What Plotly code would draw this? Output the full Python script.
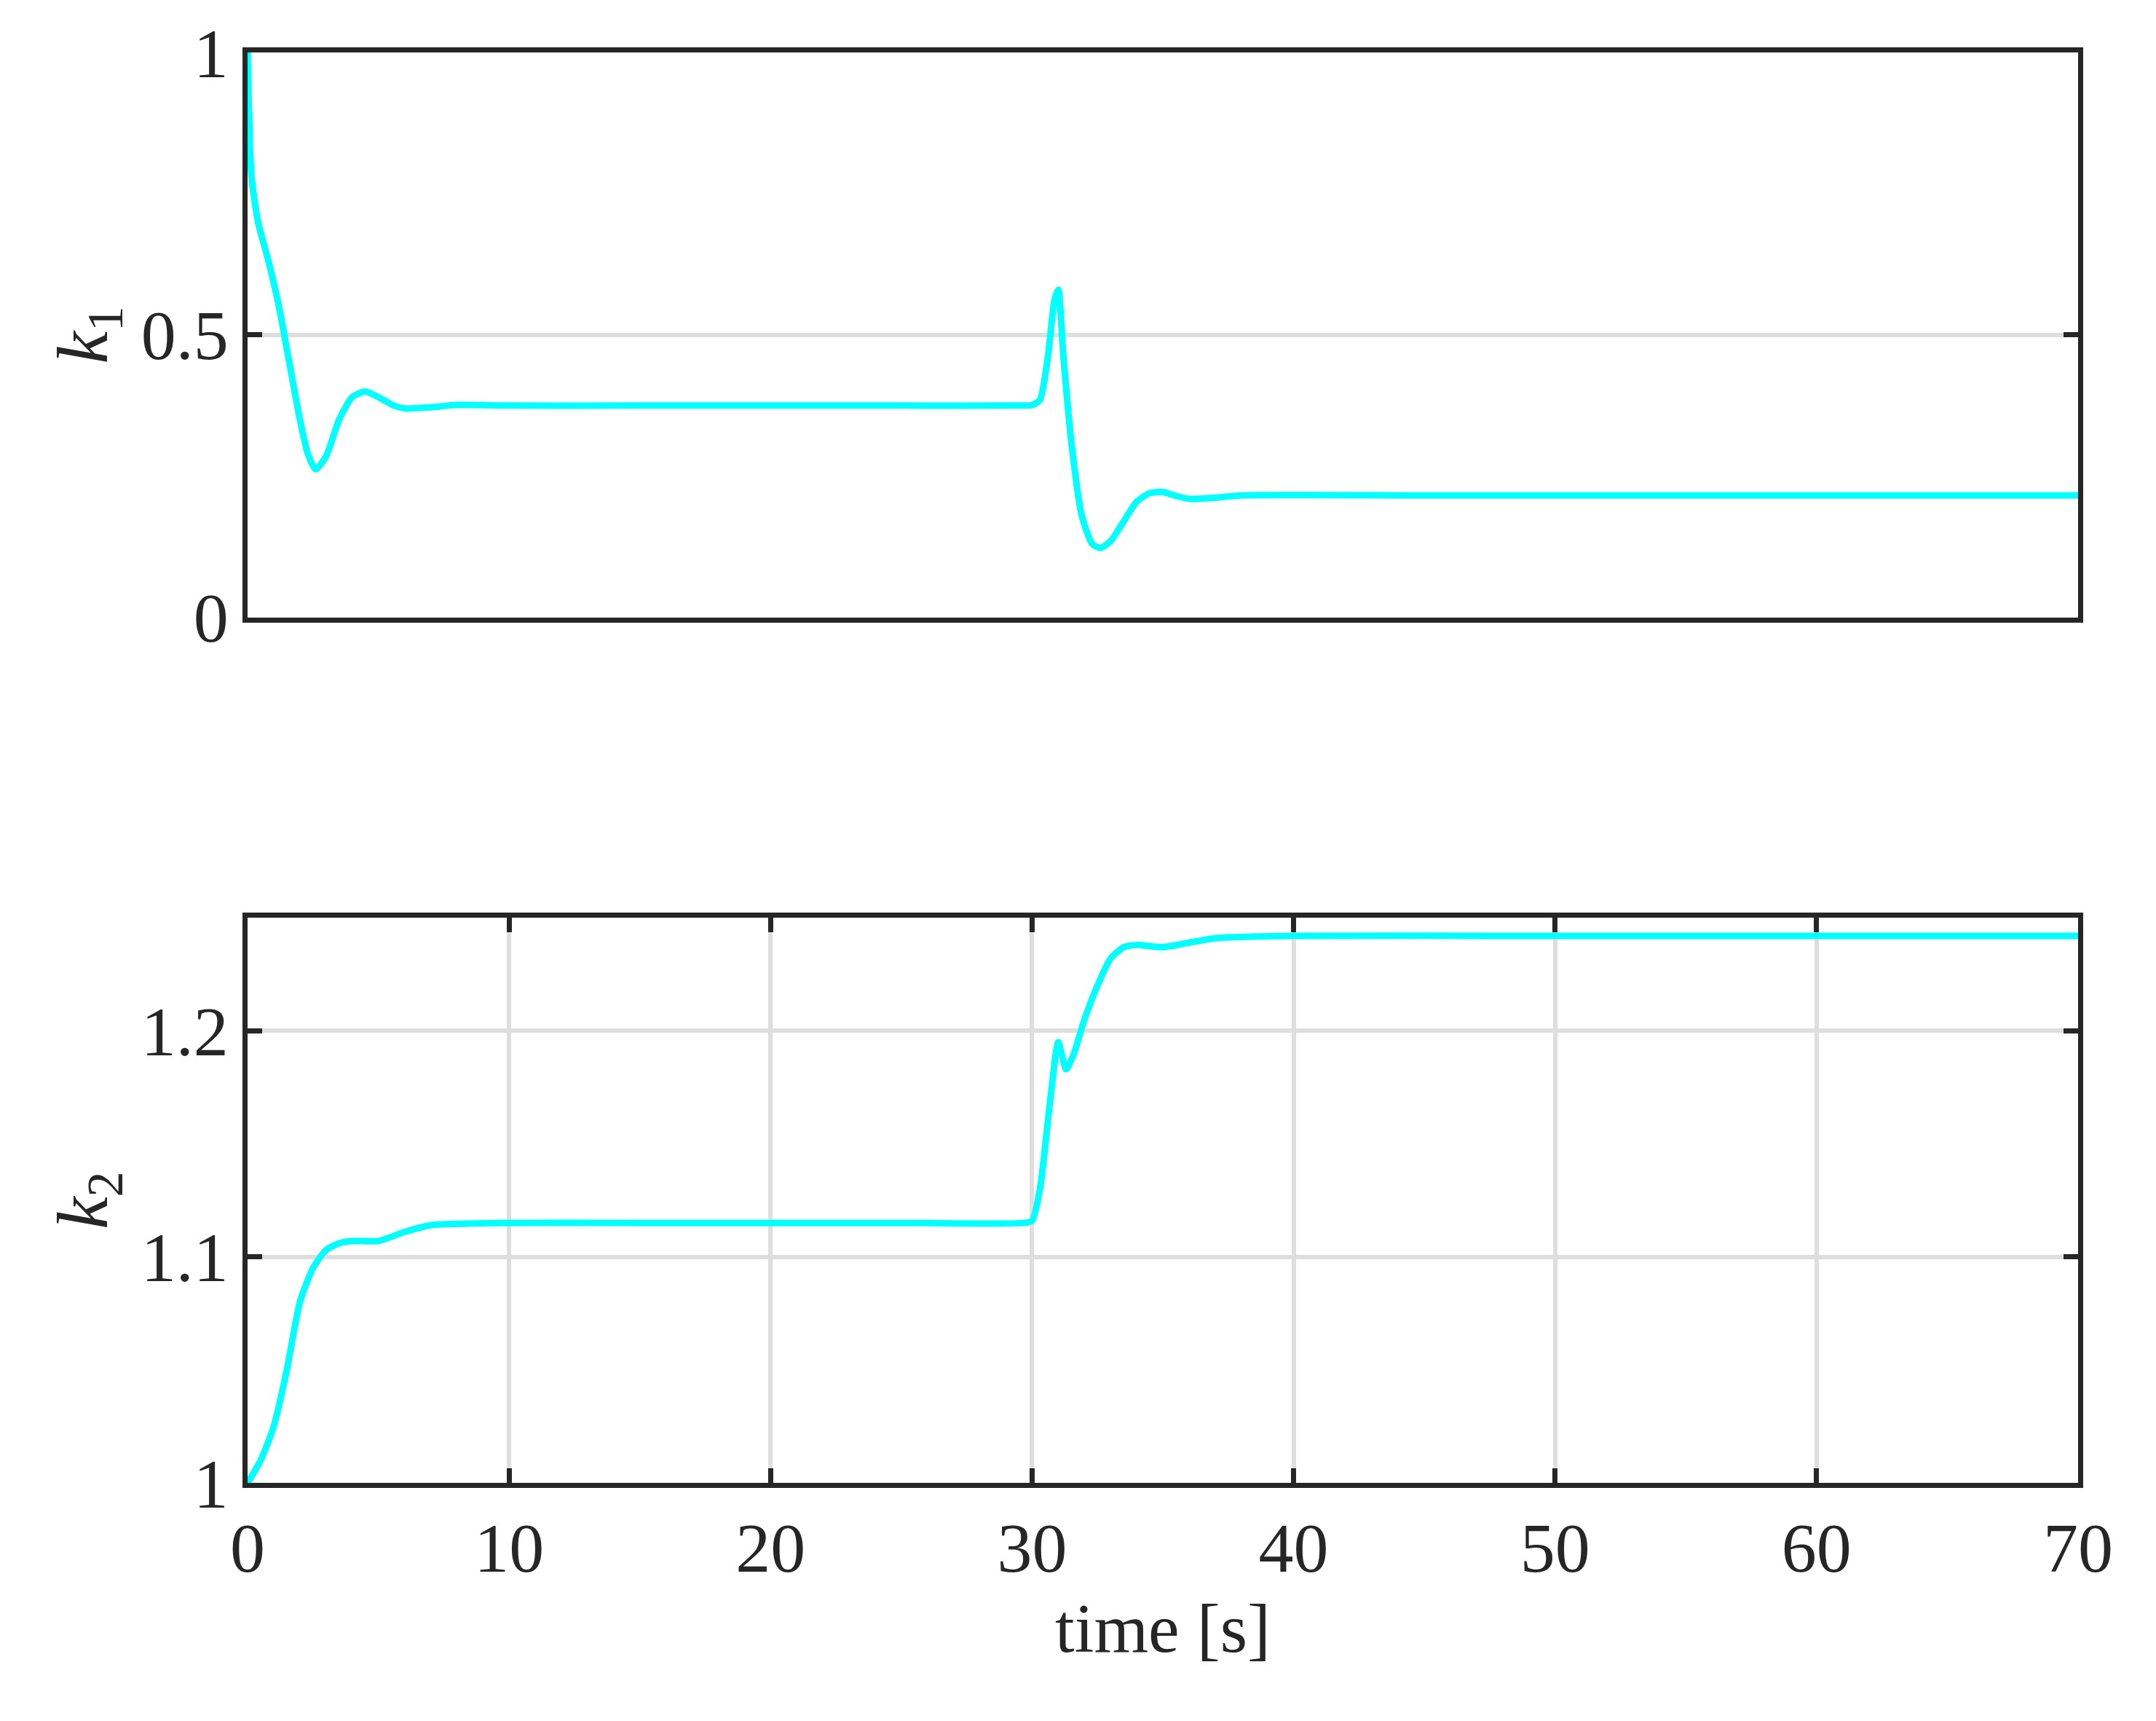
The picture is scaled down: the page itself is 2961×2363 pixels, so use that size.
import plotly.graph_objects as go
from plotly.subplots import make_subplots

# k1 gain history
t1 = [0, 0.15, 0.4, 0.8, 1.2, 1.6, 2.0, 2.3, 2.6, 3.0, 3.5, 4.0, 4.5, 5.0, 5.5, 6.0, 7.0, 8.0, 10,
      15, 20, 25, 29.5, 30, 30.3, 30.6, 30.85, 31.0, 31.2, 31.5, 31.9, 32.3, 32.6, 33.0, 33.5, 34.0,
      34.5, 35.0, 35.5, 36.0, 37.0, 38.0, 45, 55, 65, 70]
k1 = [1.0, 0.78, 0.70, 0.63, 0.55, 0.45, 0.35, 0.29, 0.262, 0.285, 0.35, 0.39, 0.40, 0.39, 0.377,
      0.37, 0.372, 0.376, 0.375, 0.375, 0.375, 0.375, 0.375, 0.376, 0.385, 0.46, 0.56, 0.58, 0.46,
      0.31, 0.18, 0.13, 0.123, 0.135, 0.17, 0.205, 0.22, 0.222, 0.215, 0.21, 0.212, 0.216, 0.216,
      0.216, 0.216, 0.216]

# k2 gain history
t2 = [0, 0.5, 1.0, 1.5, 2.0, 2.5, 3.0, 3.5, 4.0, 5.0, 6.0, 7.0, 10, 15, 20, 25, 29.7, 30,
      30.3, 30.7, 31.0, 31.3, 31.6, 32.0, 32.5, 33.0, 33.5, 34.0, 35.0, 36.0, 37.0, 40, 50, 60, 70]
k2 = [1.0, 1.01, 1.025, 1.05, 1.08, 1.095, 1.103, 1.106, 1.107, 1.107, 1.111, 1.114, 1.115, 1.115,
      1.115, 1.115, 1.115, 1.116, 1.13, 1.17, 1.195, 1.183, 1.19, 1.205, 1.22, 1.232, 1.237, 1.238,
      1.237, 1.239, 1.241, 1.242, 1.242, 1.242, 1.242]

fig = make_subplots(rows=2, cols=1, vertical_spacing=0.21)
line = dict(color='#00ffff', width=9)
fig.add_trace(go.Scatter(x=t1, y=k1, mode='lines', line=line, line_shape='spline',
                         line_smoothing=0.6), row=1, col=1)
fig.add_trace(go.Scatter(x=t2, y=k2, mode='lines', line=line, line_shape='spline',
                         line_smoothing=0.6), row=2, col=1)

ax = dict(showline=True, linecolor='#262626', linewidth=7, mirror='ticks', ticks='inside',
          ticklen=20, tickwidth=7, tickcolor='#262626', gridcolor='#dedede', gridwidth=6,
          zeroline=False, tickfont=dict(size=96, color='#262626'))

fig.update_xaxes(**ax, range=[0, 70], dtick=10)
fig.update_xaxes(showticklabels=False, showgrid=False, ticks='', mirror=True, row=1, col=1)
fig.update_xaxes(title=dict(text='time [s]', font=dict(size=96, color='#262626'), standoff=25),
                 row=2, col=1)
fig.update_yaxes(**ax)
fig.update_yaxes(range=[0, 1], tickvals=[0, 0.5, 1], ticktext=['0', '0.5', '1'],
                 title=dict(text='<i>k</i><sub>1</sub>', font=dict(size=100, color='#262626'),
                            standoff=15), row=1, col=1)
fig.update_yaxes(range=[1, 1.25], tickvals=[1, 1.1, 1.2], ticktext=['1', '1.1', '1.2'],
                 title=dict(text='<i>k</i><sub>2</sub>', font=dict(size=100, color='#262626'),
                            standoff=15), row=2, col=1)

fig.update_layout(
    width=2961, height=2363,
    font=dict(family='Liberation Serif'),
    showlegend=False,
    plot_bgcolor='white', paper_bgcolor='white',
    margin=dict(l=332, r=115, t=64, b=335),
)

fig.write_html("out.html")
